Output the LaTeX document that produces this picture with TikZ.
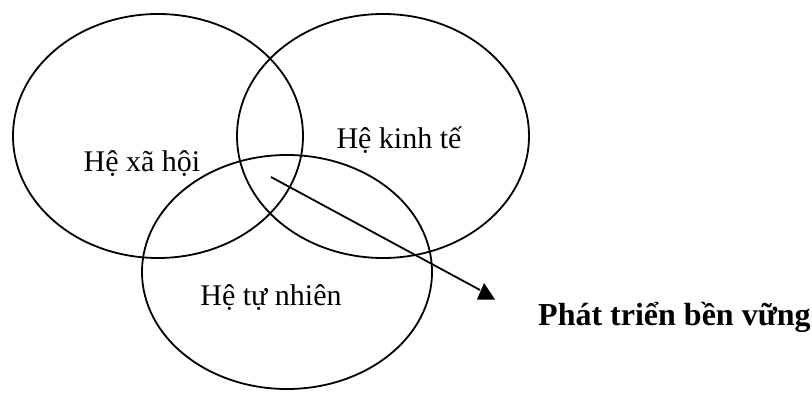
\documentclass[tikz,border=0pt]{standalone}
\usepackage{fontspec}
\setmainfont{Liberation Serif}
\begin{document}
\begin{tikzpicture}[x=1pt,y=-1pt,
  sys/.style={draw=black,line width=1.8pt,ellipse,inner sep=0pt},
  lbl/.style={font=\fontsize{30}{30}\selectfont,inner sep=0pt},
  goal/.style={font=\fontsize{32}{32}\selectfont\bfseries,inner sep=0pt,anchor=base west},
  link/.style={draw=black,line width=1.8pt}]
\useasboundingbox[fill=white] (0,0) rectangle (812,401);
\draw[line width=1.8pt] (158,136) ellipse [x radius=145, y radius=122];
\draw[line width=1.8pt] (383,136) ellipse [x radius=146, y radius=122];
\draw[line width=1.8pt] (287,272) ellipse [x radius=145, y radius=117];
\node[lbl,anchor=base] (xh) at (142,172) {Hệ xã hội};
\node[lbl,anchor=base] (kt) at (399,149) {Hệ kinh tế};
\node[lbl,anchor=base] (tn) at (271,305) {Hệ tự nhiên};
\node[goal] (pt) at (538,325) {Phát triển bền vững};
\coordinate (s) at (271,177);
\coordinate (e) at (480,290);
\draw[link] (s) -- (e);
\fill[black] (484,283) -- (495,299.5) -- (477,299.5) -- cycle;
\end{tikzpicture}
\end{document}
